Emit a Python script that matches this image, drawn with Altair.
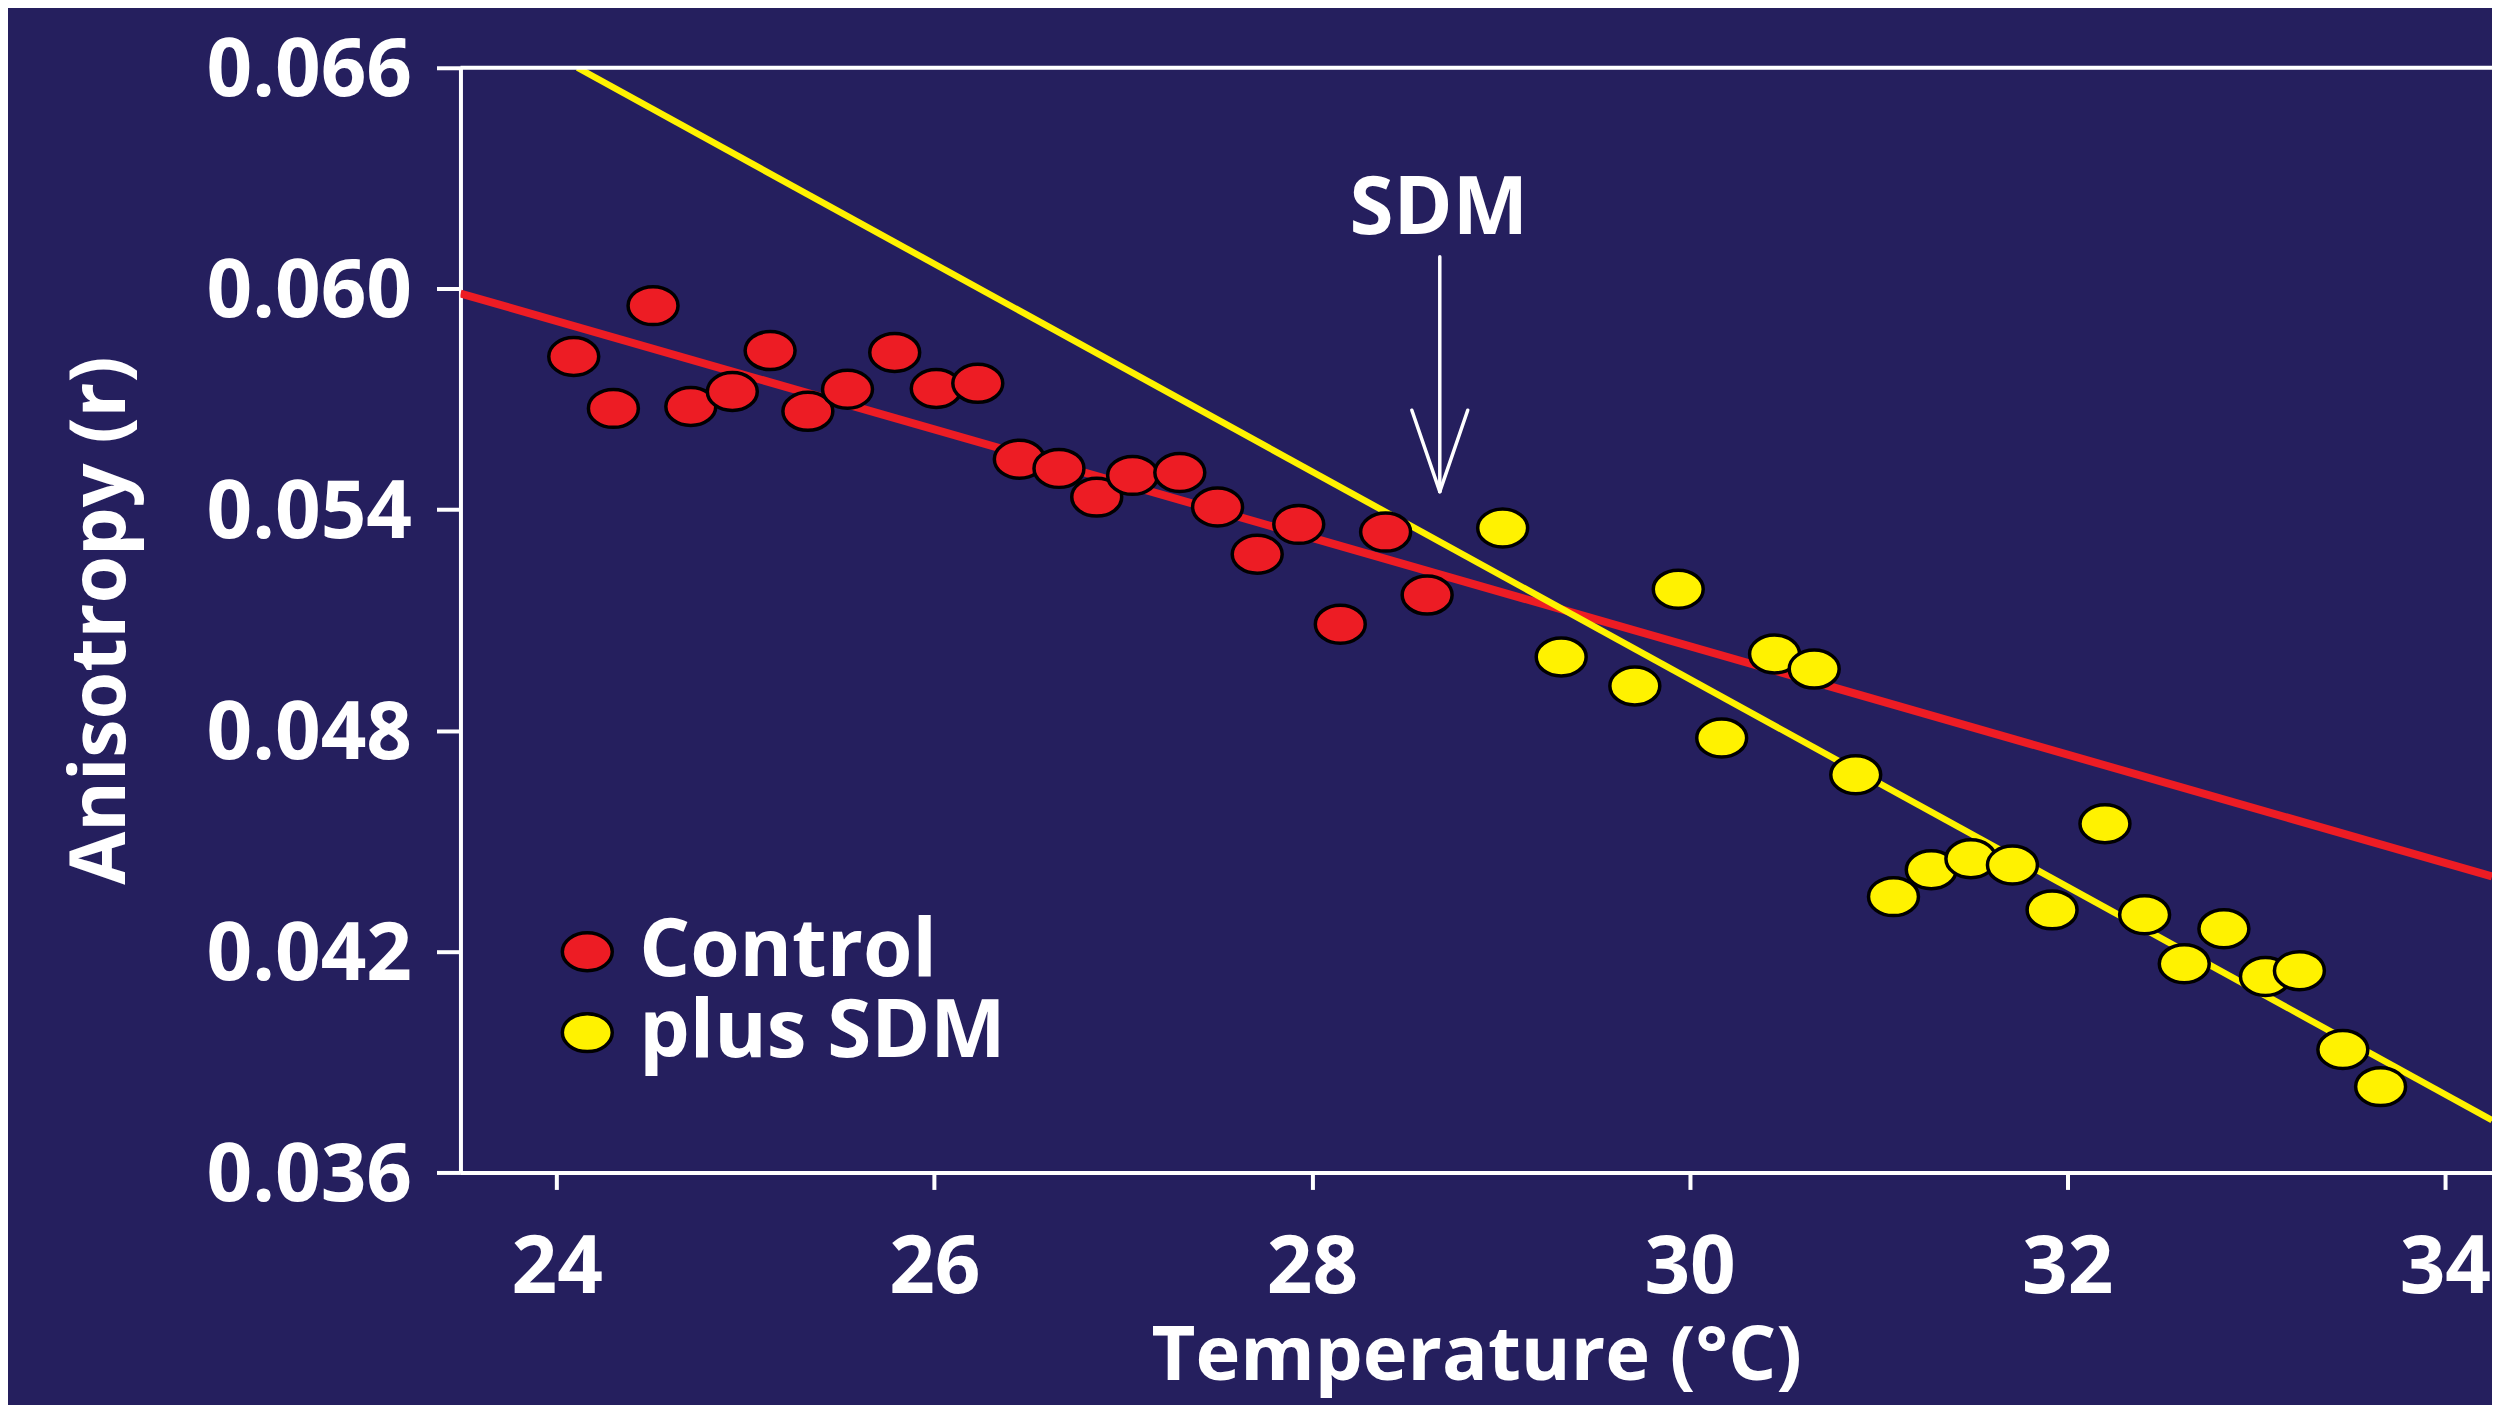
import altair as alt
import pandas as pd

# ---- data ----
series_names = ["Control", "plus SDM"]
series_colors = ["#ED1C24", "#FFF200"]

control_temp = [24.09, 24.30, 24.51, 24.71, 24.93, 25.13, 25.33, 25.54, 25.79, 26.01, 26.23,
                26.45, 26.66, 26.86, 27.05, 27.30, 27.50, 27.71, 27.93, 28.15, 28.39, 28.61]
control_aniso = [0.05816, 0.05675, 0.05954, 0.05680, 0.05721, 0.05832, 0.05667, 0.05727, 0.05827, 0.05729, 0.05743,
                 0.05537, 0.05512, 0.05434, 0.05493, 0.05501, 0.05407, 0.05279, 0.05360, 0.05089, 0.05339, 0.05168]

sdm_temp = [29.01, 29.32, 29.71, 29.94, 30.17, 30.45, 30.66, 30.88, 31.08, 31.28, 31.49,
            31.71, 31.92, 32.20, 32.41, 32.62, 32.83, 33.05, 33.23, 33.46, 33.66]
sdm_aniso = [0.05350, 0.05000, 0.04921, 0.05184, 0.04780, 0.05008, 0.04967, 0.04680, 0.04349, 0.04422, 0.04452,
             0.04435, 0.04313, 0.04547, 0.04300, 0.04167, 0.04262, 0.04132, 0.04148, 0.03934, 0.03833]

# fitted lines (end points)
control_fit_temp = [23.49, 34.25]
control_fit_aniso = [0.05987, 0.04404]
sdm_fit_temp = [24.11, 34.25]
sdm_fit_aniso = [0.066, 0.03742]

# "SDM" annotation arrow (shaft + two wings)
arrow_temp = [28.677, 28.529, 28.825]
arrow_aniso = [0.06087, 0.05670, 0.05670]
arrow_temp2 = [28.677, 28.677, 28.677]
arrow_aniso2 = [0.05449, 0.05449, 0.05449]
annot_label = ["SDM"]
annot_temp = [28.672]
annot_aniso = [0.06148]

x_ticks = [24, 26, 28, 30, 32, 34]
y_ticks = [0.036, 0.042, 0.048, 0.054, 0.060, 0.066]
x_domain = [23.49, 34.25]

# ---- tables ----
pts = pd.DataFrame({
    "temp": control_temp + sdm_temp,
    "aniso": control_aniso + sdm_aniso,
    "series": [series_names[0]] * len(control_temp) + [series_names[1]] * len(sdm_temp),
})
fit_control = pd.DataFrame({"temp": control_fit_temp, "aniso": control_fit_aniso})
fit_sdm = pd.DataFrame({"temp": sdm_fit_temp, "aniso": sdm_fit_aniso})
arrow = pd.DataFrame({"temp": arrow_temp, "aniso": arrow_aniso,
                      "temp2": arrow_temp2, "aniso2": arrow_aniso2})
annot = pd.DataFrame({"temp": annot_temp, "aniso": annot_aniso, "label": annot_label})
top = pd.DataFrame({"aniso": [max(y_ticks)]})

FONT = "Open Sans"
BG = "#251F5E"
W, H = 2034, 1106
ellipse = "M-1,0A1,0.76,0,1,1,1,0A1,0.76,0,1,1,-1,0Z"

X = alt.X("temp:Q", title="Temperature (°C)",
          scale=alt.Scale(domain=x_domain, nice=False, zero=False),
          axis=alt.Axis(values=x_ticks, format="d", grid=False,
                        domainColor="white", domainWidth=4,
                        tickColor="white", tickWidth=4, tickSize=17,
                        labelPadding=40, labelFont=FONT, labelFontSize=80,
                        labelFontWeight="bold", labelColor="white",
                        labelFlush=False, labelOverlap=False, labelLimit=0,
                        titleFont=FONT, titleFontSize=76, titleFontWeight="bold",
                        titleColor="white", titleX=W / 2, titleY=207,
                        titleBaseline="alphabetic", titleAlign="center"))
Y = alt.Y("aniso:Q", title="Anisotropy (r)",
          scale=alt.Scale(domain=[min(y_ticks), max(y_ticks)], nice=False, zero=False),
          axis=alt.Axis(values=y_ticks, format=".3f", grid=False,
                        domainColor="white", domainWidth=4,
                        tickColor="white", tickWidth=4, tickSize=24,
                        labelPadding=25, labelFont=FONT, labelFontSize=80,
                        labelFontWeight="bold", labelColor="white",
                        labelFlush=False, labelOverlap=False, labelOffset=4, labelLimit=0,
                        titleFont=FONT, titleFontSize=77, titleFontWeight="bold",
                        titleColor="white", titleX=-336, titleY=H / 2, titleAngle=270,
                        titleBaseline="alphabetic", titleAlign="center"))

line_control = alt.Chart(fit_control).mark_line(clip=True, color=series_colors[0], strokeWidth=8).encode(
    x=X, y=Y)
line_sdm = alt.Chart(fit_sdm).mark_line(clip=True, color=series_colors[1], strokeWidth=6.5).encode(
    x=X, y=Y)

top_rule = alt.Chart(top).mark_rule(color="white", strokeWidth=4).encode(y=Y)

arrow_layer = alt.Chart(arrow).mark_rule(color="white", strokeWidth=3.5, strokeCap="round").encode(
    x=X, y=Y, x2="temp2:Q", y2="aniso2:Q")

text_layer = alt.Chart(annot).mark_text(font=FONT, fontSize=80, fontWeight="bold", color="white",
                                        align="center", baseline="alphabetic").encode(
    x=X, y=Y, text="label:N")

points = alt.Chart(pts).mark_point(shape=ellipse, filled=True, size=2500, stroke="black",
                                   strokeWidth=3.5, opacity=1, fillOpacity=1, strokeOpacity=1).encode(
    x=X, y=Y,
    fill=alt.Fill("series:N", scale=alt.Scale(domain=series_names, range=series_colors),
                  legend=alt.Legend(title=None, orient="none", legendX=87, legendY=845,
                                    symbolType=ellipse, symbolSize=2500,
                                    symbolStrokeColor="black", symbolStrokeWidth=3.5,
                                    symbolOpacity=1,
                                    labelFont=FONT, labelFontSize=80, labelFontWeight="bold",
                                    labelColor="white", labelOffset=12, labelLimit=0,
                                    rowPadding=1, padding=0)),
)

chart = alt.layer(line_control, line_sdm, top_rule, arrow_layer, text_layer, points).properties(
    width=W, height=H,
    padding={"left": 453, "top": 59, "right": 0, "bottom": 232},
    autosize=alt.AutoSizeParams(type="none"),
).configure(background=BG, font=FONT).configure_view(strokeWidth=0)

chart.save("out.html", embed_options={"renderer": "svg", "actions": False})
